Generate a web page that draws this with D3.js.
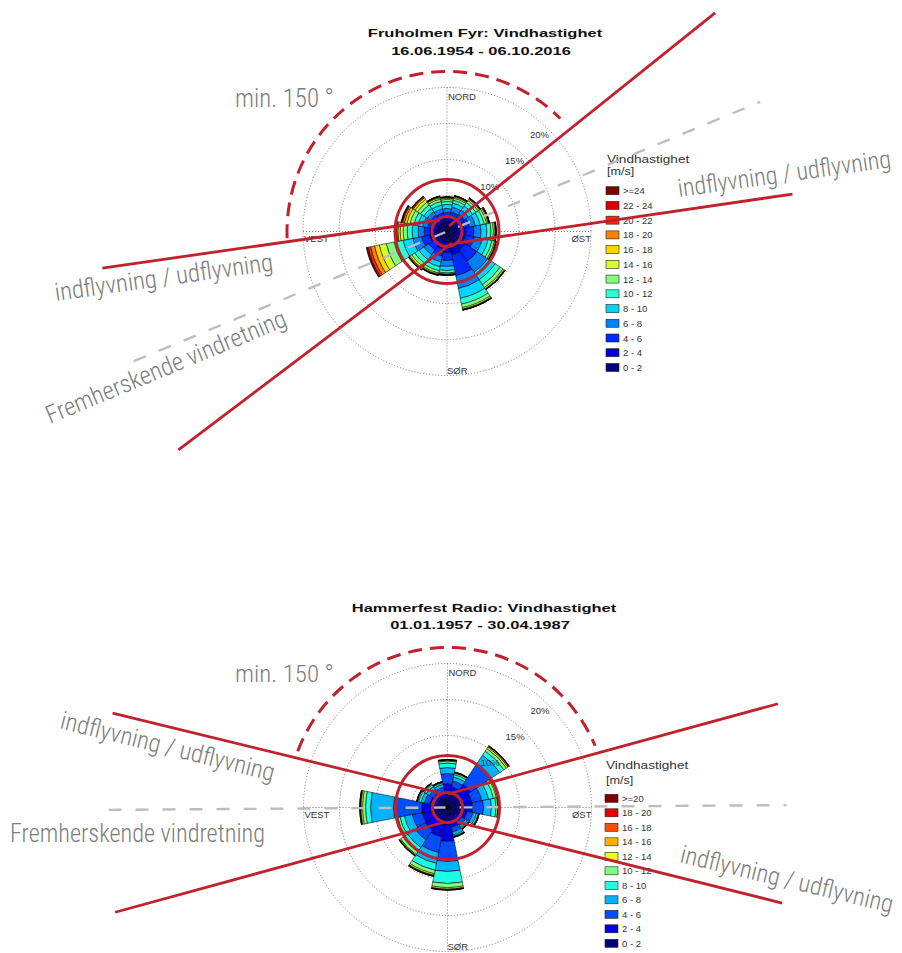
<!DOCTYPE html>
<html>
<head>
<meta charset="utf-8">
<script src="https://cdn.jsdelivr.net/npm/d3@7"></script>
<style>
  body { margin: 0; background: #fff; }
  svg { display: block; }
</style>
</head>
<body>
<svg id="chart" width="902" height="953"></svg>
<script>
// ---- data -------------------------------------------------------------
// 16 direction sectors, clockwise from north
const directions = ["N", "NNE", "NE", "ENE", "E", "ESE", "SE", "SSE",
                    "S", "SSW", "SW", "WSW", "W", "WNW", "NW", "NNW"];

// Fruholmen Fyr: speed classes [m/s]
const fruholmenBins = ["0 - 2", "2 - 4", "4 - 6", "6 - 8", "8 - 10", "10 - 12", "12 - 14",
                       "14 - 16", "16 - 18", "18 - 20", "20 - 22", "22 - 24", ">=24"];
// frequency [%] per direction (rows) and speed class (columns)
const fruholmenPct = [
  [1.39, .69, .56, .56, .56, .42, .28, .18, .10, .04, .03, .01, .01], // N
  [1.39, .69, .69, .69, .56, .42, .28, .18, .10, .04, .03, .01, .01], // NNE
  [1.39, .83, .69, .69, .69, .56, .35, .21, .11, .06, .03, .01, .01], // NE
  [1.39, .97, .83, .83, .69, .56, .35, .21, .11, .06, .03, .01, .01], // ENE
  [1.53, 1.11, 1.11, .97, .83, .56, .35, .21, .10, .04, .03, .01, .01], // E
  [1.53, 1.11, 1.25, 1.11, .83, .56, .35, .17, .07, .04, .01, .01, .01], // ESE
  [1.67, 1.39, 1.94, 1.81, 1.25, .83, .49, .21, .08, .04, .01, .01, .01], // SE
  [1.81, 1.53, 2.92, 1.81, 1.39, .83, .49, .21, .08, .04, .01, .01, .01], // SSE
  [1.67, 1.25, 1.11, .83, .56, .35, .17, .07, .04, .03, .01, .01, .01], // S
  [1.53, .97, .97, .83, .69, .56, .35, .17, .08, .04, .03, .01, .01], // SSW
  [1.39, .83, .83, .83, .83, .69, .49, .28, .14, .07, .04, .01, .01], // SW
  [1.53, .97, 1.11, 1.25, 1.39, 1.25, 1.11, .97, .69, .56, .35, .17, .08], // WSW
  [1.53, .83, .83, .83, .83, .69, .56, .42, .32, .19, .11, .06, .03], // W
  [1.39, .69, .69, .69, .69, .56, .56, .42, .35, .24, .14, .07, .04], // WNW
  [1.39, .69, .69, .56, .56, .56, .49, .42, .28, .14, .07, .03, .01], // NW
  [1.39, .69, .56, .56, .56, .49, .35, .21, .11, .06, .03, .01, .01]  // NNW
];

// Hammerfest Radio: speed classes [m/s]
const hammerfestBins = ["0 - 2", "2 - 4", "4 - 6", "6 - 8", "8 - 10", "10 - 12",
                        "12 - 14", "14 - 16", "16 - 18", "18 - 20", ">=20"];
const hammerfestPct = [
  [1.94, 1.39, 1.39, .83, .63, .28, .11, .06, .03, .01, .01], // N
  [1.81, 1.11, .83, .56, .35, .21, .08, .04, .01, .01, .01], // NNE
  [2.08, 1.81, 3.33, 1.53, .69, .42, .25, .11, .06, .03, .01], // NE
  [1.94, 1.53, 1.39, .97, .69, .42, .17, .07, .04, .01, .01], // ENE
  [1.94, 1.53, 1.53, 1.11, .63, .25, .08, .04, .01, .01, .01], // E
  [1.67, 1.11, .83, .49, .24, .08, .03, .01, .01, .01, .01], // ESE
  [1.53, .83, .63, .35, .17, .07, .04, .01, .01, .01, .01], // SE
  [1.67, 1.11, .69, .42, .19, .08, .03, .01, .01, .01, .01], // SSE
  [2.50, 2.22, 2.78, 1.39, 1.67, .56, .21, .07, .04, .03, .01], // S
  [2.22, 1.94, 2.22, 1.53, .97, .49, .21, .08, .06, .03, .01], // SSW
  [2.08, 1.67, 1.67, 1.25, .76, .42, .14, .07, .03, .01, .01], // SW
  [1.94, 1.67, 1.39, 1.11, .63, .31, .11, .06, .03, .01, .01], // WSW
  [2.22, 1.39, 3.89, 3.19, .69, .42, .21, .10, .04, .03, .01], // W
  [1.53, .97, .76, .49, .32, .17, .07, .03, .01, .01, .01], // WNW
  [1.53, .83, .69, .49, .28, .15, .06, .03, .01, .01, .01], // NW
  [1.39, .83, .63, .42, .21, .11, .04, .01, .01, .01, .01]  // NNW
];

// radial grid [%]
const ringTicks = [5, 10, 15, 20];
const ringLabels = [10, 15, 20];
const compassLabels = ["NORD", "ØST", "SØR", "VEST"];

// ---- helpers ----------------------------------------------------------
const svg = d3.select("#chart");
const RED = "#c1202c";
const GREYTXT = "#7c7c7c";
const SANS = "Liberation Sans, Arial, sans-serif";
const rad = d => d * Math.PI / 180;

// MATLAB-style jet colour ramp
function jet(t) {
  const c = v => Math.max(0, Math.min(1, v));
  return d3.rgb(255 * c(1.5 - Math.abs(4 * t - 3)),
                255 * c(1.5 - Math.abs(4 * t - 2)),
                255 * c(1.5 - Math.abs(4 * t - 1))).formatHex();
}

// point at azimuth (deg, clockwise from north) and distance from (cx, cy)
function polar(cx, cy, az, d) {
  return [cx + d * Math.sin(rad(az)), cy - d * Math.cos(rad(az))];
}

// text drawn with a horizontal stretch (the figure's fonts are wide)
function wideText(g, x, y, sx, txt) {
  return g.append("text").attr("transform", `translate(${x},${y}) scale(${sx},1)`).text(txt);
}

function drawRose(cfg) {
  const { cx, cy, R, pct, bins, title, dates, legend } = cfg;
  const g = svg.append("g");
  const r = d3.scaleLinear().domain([0, 20]).range([0, R]);
  const colour = d3.scaleOrdinal().domain(bins)
    .range(bins.map((b, i) => jet(i / (bins.length - 1))));

  // title
  const tg = g.append("g").attr("text-anchor", "middle").attr("font-family", SANS)
    .attr("font-weight", "bold").attr("font-size", 11.7).attr("fill", "#111");
  wideText(tg, cfg.titleX, cfg.titleY, 1.41, title);
  wideText(tg, cfg.datesX, cfg.titleY + cfg.datesDy, 1.41, dates);

  // dotted grid
  const grid = g.append("g").attr("fill", "none").attr("stroke", "#555")
    .attr("stroke-width", 0.8).attr("stroke-dasharray", "1 2");
  ringTicks.forEach(t => grid.append("circle").attr("cx", cx).attr("cy", cy).attr("r", r(t)));
  grid.append("line").attr("x1", cx).attr("x2", cx).attr("y1", cy - R).attr("y2", cy + R);
  grid.append("line").attr("x1", cx - R).attr("x2", cx + R).attr("y1", cy).attr("y2", cy);

  // stacked sectors
  const stack = d3.stack().keys(d3.range(bins.length));
  const series = stack(pct);
  const arc = d3.arc();
  const bars = g.append("g").attr("transform", `translate(${cx},${cy})`);
  const step = 360 / directions.length;
  series.forEach((s, j) => {
    bars.selectAll(null).data(s).join("path")
      .attr("d", (d, i) => arc({
        innerRadius: r(d[0]), outerRadius: r(d[1]),
        startAngle: rad(i * step - step / 2), endAngle: rad(i * step + step / 2)
      }))
      .attr("fill", colour(bins[j]))
      .attr("stroke", "#000").attr("stroke-width", 0.55).attr("stroke-linejoin", "round");
  });

  // percentage labels
  ringLabels.forEach(t => {
    const [x, y] = polar(cx, cy, 43.6, r(t) - 10);
    g.append("text").attr("x", x).attr("y", y).attr("text-anchor", "middle")
      .attr("dominant-baseline", "central")
      .attr("font-family", SANS).attr("font-size", 9.5)
      .attr("fill", "#333").text(t + "%");
  });

  // compass labels
  const cl = g.append("g").attr("font-family", SANS)
    .attr("font-size", 9.5).attr("fill", "#333");
  cl.append("text").attr("x", cx + 1).attr("y", cy - R + 12).text(compassLabels[0]);
  cl.append("text").attr("x", cx + R).attr("y", cy + 10.5).attr("text-anchor", "end").text(compassLabels[1]);
  cl.append("text").attr("x", cx).attr("y", cy + R - 2).text(compassLabels[2]);
  cl.append("text").attr("x", cx - R + 1).attr("y", cy + 10.5).text(compassLabels[3]);

  // legend
  const lg = g.append("g").attr("transform", `translate(${legend.x},${legend.y})`)
    .attr("font-family", SANS).attr("fill", "#333");
  wideText(lg, 1, 0, 1.24, "Vindhastighet").attr("font-size", 11);
  wideText(lg, 1, legend.unitDy, 1.15, "[m/s]").attr("font-size", 11);
  const rows = bins.slice().reverse();
  const item = lg.selectAll("g.item").data(rows).join("g")
    .attr("transform", (d, i) => `translate(0,${legend.firstDy + i * legend.step})`);
  item.append("rect").attr("x", 0).attr("y", -4).attr("width", 13).attr("height", 8)
    .attr("fill", d => colour(d)).attr("stroke", "#222").attr("stroke-width", 0.6);
  item.append("text").attr("x", 17).attr("y", 3.5).attr("font-size", 9.5).text(d => d);

  return g;
}

function ray(g, cx, cy, o) {
  const x0 = cx + o.dx, y0 = cy + o.dy;
  const [x1, y1] = polar(x0, y0, o.az, o.len);
  g.append("line").attr("x1", x0).attr("y1", y0).attr("x2", x1).attr("y2", y1)
    .attr("stroke", RED).attr("stroke-width", 2.8).attr("stroke-linecap", "butt");
}

function dashedArc(g, cx, cy, radius, az0, az1) {
  const p = d3.path();
  p.arc(cx, cy, radius, rad(az0 - 90), rad(az1 - 90));
  g.append("path").attr("d", p.toString()).attr("fill", "none")
    .attr("stroke", RED).attr("stroke-width", 3).attr("stroke-dasharray", "14 8");
}

function greyDash(g, cx, cy, az, half) {
  const [x0, y0] = polar(cx, cy, az + 180, half);
  const [x1, y1] = polar(cx, cy, az, half);
  g.append("line").attr("x1", x0).attr("y1", y0).attr("x2", x1).attr("y2", y1)
    .attr("stroke", "#bdbdbd").attr("stroke-width", 2.4).attr("stroke-dasharray", "13 14");
}

function note(g, x, y, angle, len, size, txt) {
  g.append("text").attr("transform", `translate(${x},${y}) rotate(${angle})`)
    .attr("font-family", "Roboto Condensed, Liberation Sans Narrow, Roboto, sans-serif")
    .attr("font-weight", 300).attr("font-size", size).attr("fill", GREYTXT)
    .attr("textLength", len).attr("lengthAdjust", "spacingAndGlyphs").text(txt);
}

function redRings(g, cx, cy) {
  [15, 52].forEach(rr => g.append("circle").attr("cx", cx).attr("cy", cy).attr("r", rr)
    .attr("fill", "none").attr("stroke", RED).attr("stroke-width", 3));
}

// ---- Fruholmen Fyr ----------------------------------------------------
const roseA = { cx: 447, cy: 231.5 };
drawRose({
  cx: roseA.cx, cy: roseA.cy, R: 144, pct: fruholmenPct, bins: fruholmenBins,
  title: "Fruholmen Fyr: Vindhastighet", dates: "16.06.1954 - 06.10.2016",
  titleX: 485, datesX: 481, titleY: 36.7, datesDy: 18.3,
  legend: { x: 606, y: 163, unitDy: 12, firstDy: 27.7, step: 14.73 }
});
const ov1 = svg.append("g");
greyDash(ov1, roseA.cx, roseA.cy, 67.5, 339);
redRings(ov1, roseA.cx, roseA.cy);
ray(ov1, roseA.cx, roseA.cy, { dx: 2, dy: -5.5, az: 51.3, len: 341 });
ray(ov1, roseA.cx, roseA.cy, { dx: 5, dy: 11.5, az: 232.9, len: 343 });
ray(ov1, roseA.cx, roseA.cy, { dx: -7, dy: -11.5, az: 261.9, len: 341 });
ray(ov1, roseA.cx, roseA.cy, { dx: 10, dy: 11.5, az: 81.7, len: 339 });
dashedArc(ov1, roseA.cx, roseA.cy, 160, 267.6, 405.1);
note(ov1, 235, 107, 0, 99, 25, "min. 150 °");
note(ov1, 56, 301, -8, 220, 25, "indflyvning / udflyvning");
note(ov1, 679, 197, -8, 215, 25, "indflyvning / udflyvning");
note(ov1, 50, 424, -22.5, 258, 25, "Fremherskende vindretning");

// ---- Hammerfest Radio -------------------------------------------------
const roseB = { cx: 447.5, cy: 807.5 };
drawRose({
  cx: roseB.cx, cy: roseB.cy, R: 144, pct: hammerfestPct, bins: hammerfestBins,
  title: "Hammerfest Radio: Vindhastighet", dates: "01.01.1957 - 30.04.1987",
  titleX: 484, datesX: 480, titleY: 611.5, datesDy: 17.5,
  legend: { x: 605, y: 769, unitDy: 15, firstDy: 29.3, step: 14.5 }
});
const ov2 = svg.append("g");
greyDash(ov2, roseB.cx, roseB.cy, 89.6, 339);
redRings(ov2, roseB.cx, roseB.cy);
ray(ov2, roseB.cx, roseB.cy, { dx: -7.5, dy: -14.5, az: 283.7, len: 337 });
ray(ov2, roseB.cx, roseB.cy, { dx: 0.5, dy: -13.5, az: 74.7, len: 342 });
ray(ov2, roseB.cx, roseB.cy, { dx: -2.5, dy: 14.5, az: 254.7, len: 342 });
ray(ov2, roseB.cx, roseB.cy, { dx: 9.5, dy: 14.5, az: 104, len: 335 });
dashedArc(ov2, roseB.cx, roseB.cy, 160, 290.6, 427.3);
note(ov2, 235, 682, 0, 99, 24, "min. 150 °");
note(ov2, 59, 728, 14, 220, 25, "indflyvning / udflyvning");
note(ov2, 10, 842, 0, 255, 26, "Fremherskende vindretning");
note(ov2, 679, 862, 13.5, 218, 25, "indflyvning / udflyvning");
</script>
</body>
</html>
